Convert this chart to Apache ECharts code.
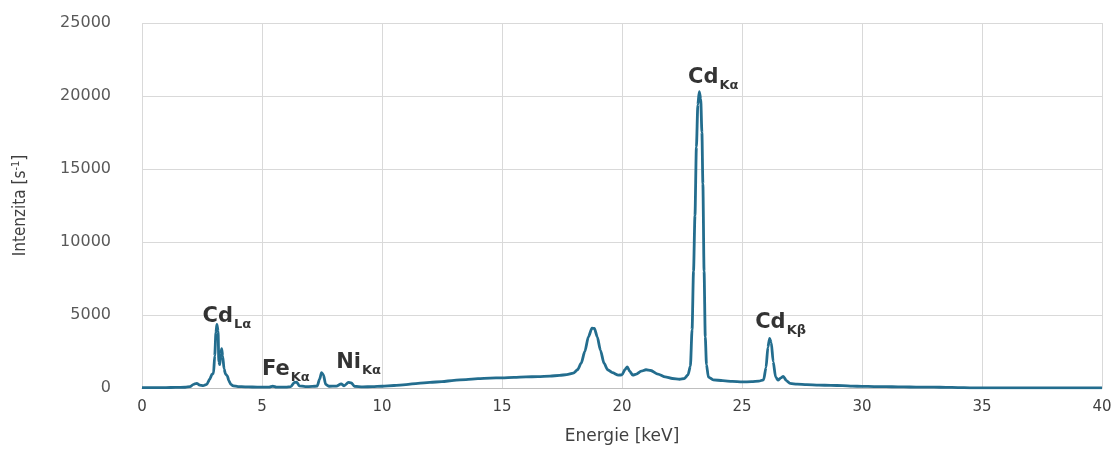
<!DOCTYPE html>
<html>
<head>
<meta charset="utf-8">
<title>XRF spektrum</title>
<script src="https://cdn.jsdelivr.net/npm/echarts@6/dist/echarts.min.js"></script>
<style>
  html, body { margin: 0; padding: 0; background: #ffffff; }
  #chart { width: 1120px; height: 450px; }
</style>
</head>
<body>
<div id="chart"></div>
<script>
// Measured spectrum: energy [keV] and count rate [s^-1]
const energy = [
  0.0, 0.3, 0.6, 1.0, 1.4, 1.8, 2.0, 2.15, 2.28, 2.4, 2.55, 2.7, 2.82, 2.92, 2.98,
  3.03, 3.08, 3.12, 3.17, 3.2, 3.24, 3.28, 3.32, 3.36, 3.42, 3.48, 3.55, 3.62, 3.7, 3.8,
  4.0, 4.3, 4.6, 5.0, 5.3, 5.45, 5.6, 6.0, 6.2, 6.35, 6.45, 6.55, 6.8, 7.1, 7.3,
  7.4, 7.48, 7.56, 7.65, 7.8, 8.1, 8.3, 8.42, 8.6, 8.72, 8.85, 9.2, 9.6, 10.0, 10.5,
  11.0, 11.5, 12.0, 12.5, 13.0, 13.5, 14.0, 14.5, 15.0, 15.5, 16.0, 16.5, 17.0, 17.4, 17.7,
  17.97, 18.15, 18.3, 18.45, 18.6, 18.75, 18.85, 18.97, 19.1, 19.25, 19.4, 19.6, 19.85, 20.0, 20.12,
  20.22, 20.32, 20.45, 20.6, 20.8, 21.0, 21.2, 21.5, 21.8, 22.1, 22.4, 22.6, 22.75, 22.85, 22.92,
  22.98, 23.04, 23.1, 23.16, 23.22, 23.28, 23.33, 23.37, 23.42, 23.47, 23.52, 23.6, 23.8, 24.2, 24.6,
  25.0, 25.4, 25.7, 25.9, 26.0, 26.08, 26.15, 26.22, 26.3, 26.4, 26.5, 26.62, 26.72, 26.85, 27.0,
  27.3, 27.7, 28.2, 28.7, 29.2, 29.6, 30.0, 30.5, 31.0, 31.5, 32.0, 32.5, 33.0, 33.5, 34.0,
  34.5, 35.0, 36.0, 37.0, 38.0, 39.0, 40.0
];
const intensity = [
  20, 30, 25, 30, 40, 50, 90, 250, 320, 200, 160, 250, 600, 950, 1000,
  2200, 3800, 4350, 3900, 1800, 1600, 2300, 2700, 2200, 1300, 950, 850, 500, 250, 150,
  100, 80, 70, 60, 60, 120, 60, 60, 90, 380, 400, 150, 90, 110, 130,
  600, 1050, 900, 250, 120, 130, 280, 150, 380, 350, 120, 80, 90, 120, 170,
  230, 320, 380, 440, 520, 580, 640, 680, 700, 730, 760, 780, 820, 860, 920,
  1020, 1250, 1700, 2500, 3500, 4100, 4080, 3500, 2600, 1700, 1250, 1050, 880, 900, 1250,
  1450, 1150, 880, 950, 1150, 1250, 1200, 950, 760, 650, 600, 650, 900, 1500, 4000,
  8000, 11800, 16500, 19400, 20300, 19800, 17500, 14000, 8000, 3500, 1600, 750, 560, 500, 450,
  420, 430, 470, 560, 1400, 2800, 3400, 3100, 1800, 750, 540, 700, 800, 500, 320,
  260, 230, 200, 180, 160, 130, 110, 100, 90, 80, 70, 60, 55, 45, 30,
  15, 10, 10, 8, 8, 5, 5
];

// Peak annotations: element, line, energy of the labelled peak
const peakElements = ['Cd', 'Fe', 'Ni', 'Cd', 'Cd'];
const peakLines = ['Lα', 'Kα', 'Kα', 'Kα', 'Kβ'];
const peakEnergies = [3.12, 6.45, 7.48, 23.22, 26.15];

// Axis ticks
const xTicks = [0, 5, 10, 15, 20, 25, 30, 35, 40];
const yTicks = [0, 5000, 10000, 15000, 20000, 25000];

const spectrum = energy.map((e, i) => [e, intensity[i]]);
const peakPoints = peakEnergies.map((e, i) => {
  const k = energy.indexOf(e);
  return { value: [e, intensity[k]], main: peakElements[i], sub: peakLines[i] };
});

// Pixel nudges for each annotation relative to its peak
const labelOffsets = [[10, -8], [-11, -13], [37, -10], [14, -14], [11, -16]];

const gridColor = '#d9d9d9';
const textColor = '#404040';

const chart = echarts.init(document.getElementById('chart'), null, { renderer: 'canvas' });
chart.setOption({
  animation: false,
  backgroundColor: '#ffffff',
  grid: { left: 142, right: 18, top: 23, bottom: 56 },
  xAxis: {
    type: 'value',
    min: xTicks[0],
    max: xTicks[xTicks.length - 1],
    interval: xTicks[1] - xTicks[0],
    name: 'Energie [keV]',
    nameLocation: 'middle',
    nameGap: 40,
    nameTextStyle: { fontFamily: 'DejaVu Sans', fontSize: 17, color: textColor },
    axisLine: { show: true, lineStyle: { color: '#bfbfbf', width: 1 } },
    axisTick: { show: false },
    axisLabel: { margin: 12, fontFamily: 'DejaVu Sans', fontSize: 15, color: textColor },
    splitLine: { show: true, lineStyle: { color: gridColor, width: 1 } }
  },
  yAxis: {
    type: 'value',
    min: yTicks[0],
    max: yTicks[yTicks.length - 1],
    interval: yTicks[1] - yTicks[0],
    name: 'Intenzita [s{sup|-1}]',
    nameLocation: 'middle',
    nameGap: 112,
    nameRotate: 90,
    nameTextStyle: {
      fontFamily: 'DejaVu Sans Condensed, Liberation Sans Narrow, Liberation Sans',
      fontSize: 17,
      color: textColor,
      rich: {
        sup: {
          fontFamily: 'DejaVu Sans Condensed, Liberation Sans Narrow, Liberation Sans',
          fontSize: 11, color: textColor, verticalAlign: 'top', padding: [0, 0, 8, 0]
        }
      }
    },
    axisLine: { show: false },
    axisTick: { show: false },
    axisLabel: {
      margin: 31,
      fontFamily: 'DejaVu Sans',
      fontSize: 16,
      color: '#595959',
      formatter: v => String(v)
    },
    splitLine: { show: true, lineStyle: { color: gridColor, width: 1 } }
  },
  series: [
    {
      type: 'line',
      data: spectrum,
      showSymbol: false,
      smooth: 0.25,
      smoothMonotone: 'x',
      lineStyle: { color: '#236d8e', width: 2.8 },
      z: 3
    },
    {
      type: 'scatter',
      data: peakPoints.map((p, i) => ({
        value: p.value,
        label: {
          show: true,
          position: 'inside',
          align: 'center',
          verticalAlign: 'middle',
          offset: labelOffsets[i],
          color: '#000000',
          formatter: '{m|' + p.main + '}{s|' + p.sub + '}',
          rich: {
            m: { fontFamily: 'DejaVu Sans', fontWeight: 'bold', fontSize: 21, color: '#000000', lineHeight: 24 },
            s: { fontFamily: 'DejaVu Sans', fontWeight: 'bold', fontSize: 13, color: '#000000', padding: [16, 0, 0, 1] }
          }
        }
      })),
      symbolSize: 1,
      itemStyle: { color: 'rgba(0,0,0,0)' },
      silent: true,
      z: 5
    }
  ]
});
</script>
</body>
</html>
